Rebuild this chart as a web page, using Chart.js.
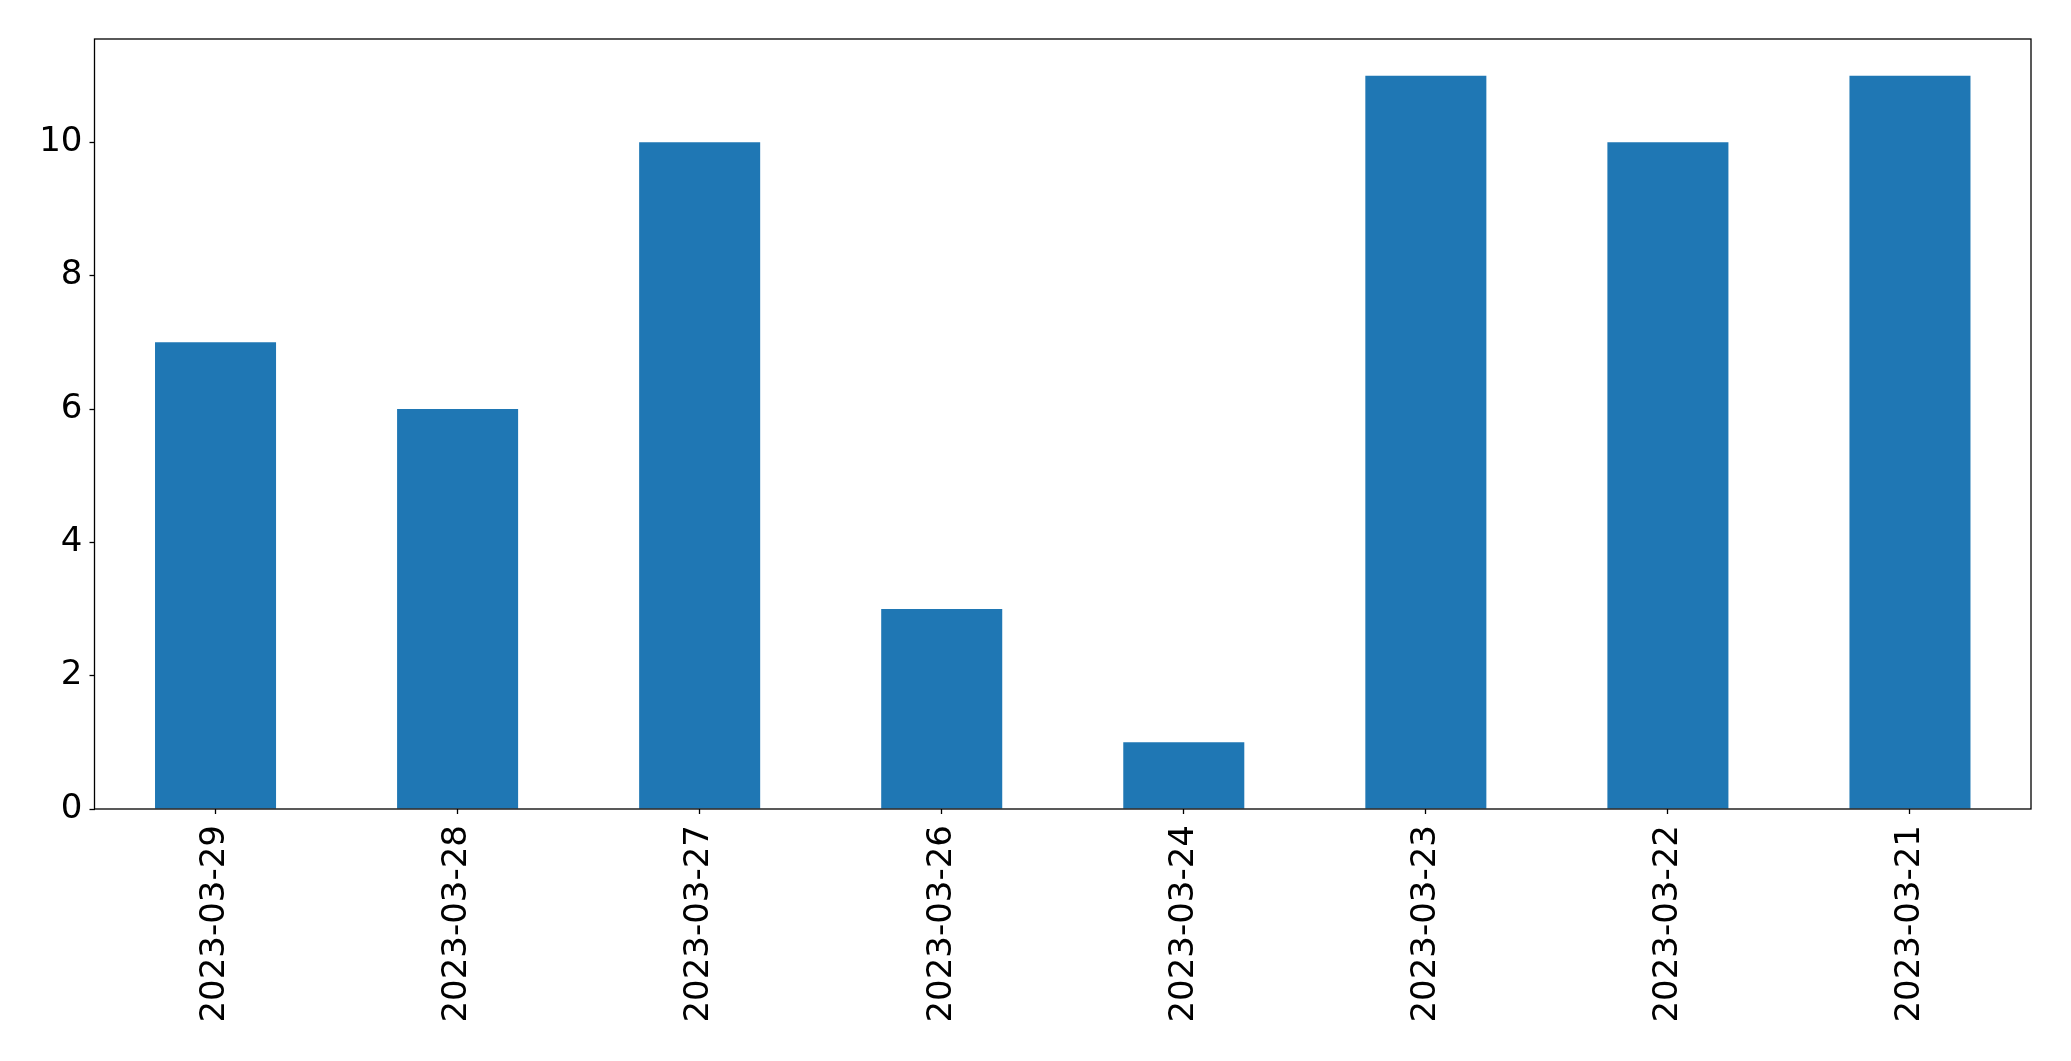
<!DOCTYPE html>
<html>
<head>
<meta charset="utf-8">
<script src="https://cdn.jsdelivr.net/npm/chart.js@4/dist/chart.umd.min.js"></script>
<style>
  html, body { margin: 0; padding: 0; background: #fff; }
  #wrap { width: 2071px; height: 1061px; }
</style>
</head>
<body>
<div id="wrap"><canvas id="chart" width="2071" height="1061"></canvas></div>
<script>
// data
const dates = ['2023-03-29', '2023-03-28', '2023-03-27', '2023-03-26', '2023-03-24', '2023-03-23', '2023-03-22', '2023-03-21'];
const counts = [7, 6, 10, 3, 1, 11, 10, 11];
const yTicks = [0, 2, 4, 6, 8, 10];

const barColor = '#1f77b4';
const fontFamily = '"DejaVu Sans", sans-serif';

// frame around the plot area
const framePlugin = {
    id: 'frame',
    afterDraw(chart) {
        const a = chart.chartArea;
        const ctx = chart.ctx;
        ctx.save();
        ctx.strokeStyle = '#000';
        ctx.lineWidth = 1.3;
        ctx.strokeRect(a.left, a.top, a.right - a.left, a.bottom - a.top);
        ctx.restore();
    }
};

const ctx = document.getElementById('chart').getContext('2d');
new Chart(ctx, {
    type: 'bar',
    data: {
        labels: dates,
        datasets: [{
            data: counts,
            backgroundColor: barColor,
            borderWidth: 0,
            barPercentage: 0.5,
            categoryPercentage: 1.0
        }]
    },
    options: {
        responsive: false,
        animation: false,
        layout: { padding: { top: 39, right: 40, left: 0, bottom: 0 } },
        plugins: {
            legend: { display: false },
            tooltip: { enabled: false }
        },
        scales: {
            x: {
                grid: {
                    display: true,
                    drawOnChartArea: false,
                    drawTicks: true,
                    tickLength: 5,
                    tickWidth: 1.3,
                    color: '#000',
                    offset: false
                },
                border: { display: false },
                ticks: {
                    color: '#000',
                    font: { family: fontFamily, size: 34 },
                    minRotation: 90,
                    maxRotation: 90,
                    padding: 11,
                    autoSkip: false
                },
                afterFit(scale) { scale.height = 252; }
            },
            y: {
                min: 0,
                max: 11.55,
                afterBuildTicks(scale) {
                    scale.ticks = yTicks.map(v => ({ value: v }));
                },
                grid: {
                    display: true,
                    drawOnChartArea: false,
                    drawTicks: true,
                    tickLength: 5,
                    tickWidth: 1.3,
                    color: '#000'
                },
                border: { display: false },
                ticks: {
                    color: '#000',
                    font: { family: fontFamily, size: 34 },
                    padding: 7
                },
                afterFit(scale) { scale.width = 94.5; }
            }
        }
    },
    plugins: [framePlugin]
});
</script>
</body>
</html>
